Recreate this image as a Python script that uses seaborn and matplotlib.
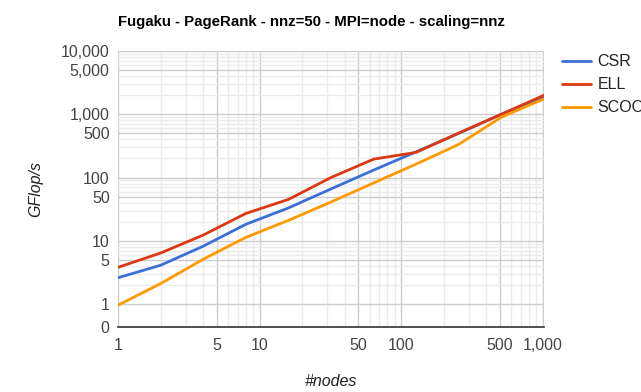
import numpy as np
import pandas as pd
import matplotlib
matplotlib.use("Agg")
import matplotlib.pyplot as plt
from matplotlib.ticker import FixedLocator, FuncFormatter, NullFormatter
import seaborn as sns

# values
nodes = [1, 2, 4, 8, 16, 32, 64, 128, 256, 512, 1024]
csr = [2.6, 4.1, 8.2, 18.2, 33, 66, 131, 255, 500, 1000, 1900]
ell = [3.8, 6.4, 12.3, 27, 45, 100, 195, 250, 505, 1000, 2000]
scoo = [0.95, 2.1, 5.1, 11.3, 21, 41, 82, 163, 335, 900, 1750]
formats = ["CSR", "ELL", "SCOO"]
colors = ["#3c6fd6", "#dc3912", "#ff9900"]

y_major = [0, 1, 5, 10, 50, 100, 500, 1000, 5000, 10000]
x_major = [1, 5, 10, 50, 100, 500, 1000]

df = pd.DataFrame({
    "nodes": nodes * 3,
    "gflops": csr + ell + scoo,
    "format": np.repeat(formats, len(nodes)),
})

sns.set_theme(style="white")
plt.rcParams["font.family"] = ["Liberation Sans", "DejaVu Sans"]

fig = plt.figure(figsize=(6.41, 3.92), dpi=100)
ax = fig.add_axes([118 / 641, 65 / 392, 426 / 641, 276 / 392])
sns.lineplot(data=df, x="nodes", y="gflops", hue="format", palette=colors,
             linewidth=2, ax=ax)

ax.set_xscale("log")
ax.set_yscale("symlog", linthresh=1, linscale=0.327)
ax.set_xlim(1, 1024)
ax.set_ylim(0, 10000)

minor = [m * 10 ** k for k in range(4) for m in (2, 3, 4, 6, 7, 8, 9)]
ax.yaxis.set_major_locator(FixedLocator(y_major))
ax.yaxis.set_minor_locator(FixedLocator(minor))
ax.xaxis.set_major_locator(FixedLocator(x_major))
ax.xaxis.set_minor_locator(FixedLocator([v for v in minor if v < 1024]))
fmt = FuncFormatter(lambda v, p: f"{v:,.0f}")
ax.yaxis.set_major_formatter(fmt)
ax.xaxis.set_major_formatter(fmt)
ax.yaxis.set_minor_formatter(NullFormatter())
ax.xaxis.set_minor_formatter(NullFormatter())

ax.grid(which="major", color="#cccccc", linewidth=1)
ax.grid(which="minor", color="#ebebeb", linewidth=1)
ax.set_axisbelow(True)
for side in ["top", "right", "left"]:
    ax.spines[side].set_visible(False)
ax.spines["bottom"].set_color("#333333")
ax.spines["bottom"].set_linewidth(1.2)
ax.tick_params(which="both", length=0, labelsize=11.5, colors="#444444")
ax.tick_params(axis="x", pad=8)
ax.tick_params(axis="y", pad=6)
ax.set_xlabel("")
ax.set_ylabel("")

ax.legend(loc="upper left", bbox_to_anchor=(548 / 641, 1 - 40 / 392),
          bbox_transform=fig.transFigure, frameon=False, fontsize=11.5,
          handlelength=1.8, handletextpad=0.4, labelspacing=0.5,
          labelcolor="#222222")

fig.text(118 / 641, 1 - 22 / 392, "Fugaku - PageRank - nnz=50 - MPI=node - scaling=nnz",
         fontsize=10.8, fontweight="bold", color="#000000", ha="left", va="center")
fig.text(36 / 641, 1 - 189 / 392, "GFlop/s", rotation=90, style="italic",
         fontsize=11.5, color="#222222", ha="center", va="center")
fig.text(331 / 641, 1 - 381 / 392, "#nodes", style="italic",
         fontsize=11.5, color="#222222", ha="center", va="center")

fig.savefig("out.png", dpi=100)
